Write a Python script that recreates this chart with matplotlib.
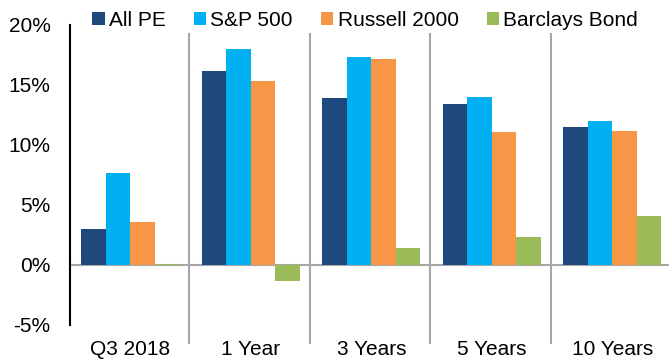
import matplotlib
matplotlib.use("Agg")
import matplotlib.pyplot as plt
import matplotlib.transforms as mtransforms
from matplotlib.patches import Patch
import numpy as np

plt.rcParams['font.family'] = ['Liberation Sans', 'DejaVu Sans']

categories = ["Q3 2018", "1 Year", "3 Years", "5 Years", "10 Years"]
series_names = ["All PE", "S&P 500", "Russell 2000", "Barclays Bond"]
all_pe = [3.0, 16.2, 13.9, 13.4, 11.5]
sp500 = [7.7, 18.0, 17.3, 14.0, 12.0]
russell = [3.6, 15.3, 17.2, 11.1, 11.2]
bond = [0.1, -1.3, 1.4, 2.3, 4.1]
colors = ["#1F497D", "#00B0F0", "#F79646", "#9BBB59"]
yticks = [-5, 0, 5, 10, 15, 20]
ytick_labels = ["-5%", "0%", "5%", "10%", "15%", "20%"]

W, H = 669, 360
fig = plt.figure(figsize=(W / 100, H / 100), dpi=100)
ax = fig.add_axes([70 / W, 35 / H, 599 / W, 300 / H])

x = np.arange(len(categories))
width = 0.203
offsets = [-1.5, -0.5, 0.5, 1.5]
for vals, c, off in zip([all_pe, sp500, russell, bond], colors, offsets):
    ax.bar(x + off * width, vals, width=width, color=c, zorder=2, linewidth=0)

ax.set_xlim(-0.5, 4.47)
ax.set_ylim(-5, 20)

ax.axhline(0, color="#A6A6A6", lw=1.5, zorder=1)

trans = mtransforms.blended_transform_factory(ax.transData, ax.transAxes)
for k in range(len(categories) - 1):
    ax.plot([k + 0.49, k + 0.49], [-0.06, 0.97], color="#A6A6A6", lw=1.5,
            transform=trans, clip_on=False, zorder=1)

for s in ["top", "right", "bottom"]:
    ax.spines[s].set_visible(False)
ax.spines["left"].set_color("black")
ax.spines["left"].set_linewidth(1.5)

ax.set_yticks(yticks)
ax.set_yticklabels(ytick_labels)
ax.set_xticks(x)
ax.set_xticklabels(categories)
ax.tick_params(axis="y", length=0, pad=14, labelsize=15)
ax.tick_params(axis="x", length=0, pad=11, labelsize=15)

handles = [Patch(facecolor=c, edgecolor="none") for c in colors]
fig.legend(handles, series_names, loc="center left",
           bbox_to_anchor=(92 / W, 1 - 20 / H), ncol=4, frameon=False,
           fontsize=15, handlelength=0.6, handleheight=0.6,
           handletextpad=0.2, columnspacing=1.35, borderpad=0, borderaxespad=0)

fig.savefig("out.png", dpi=100)
